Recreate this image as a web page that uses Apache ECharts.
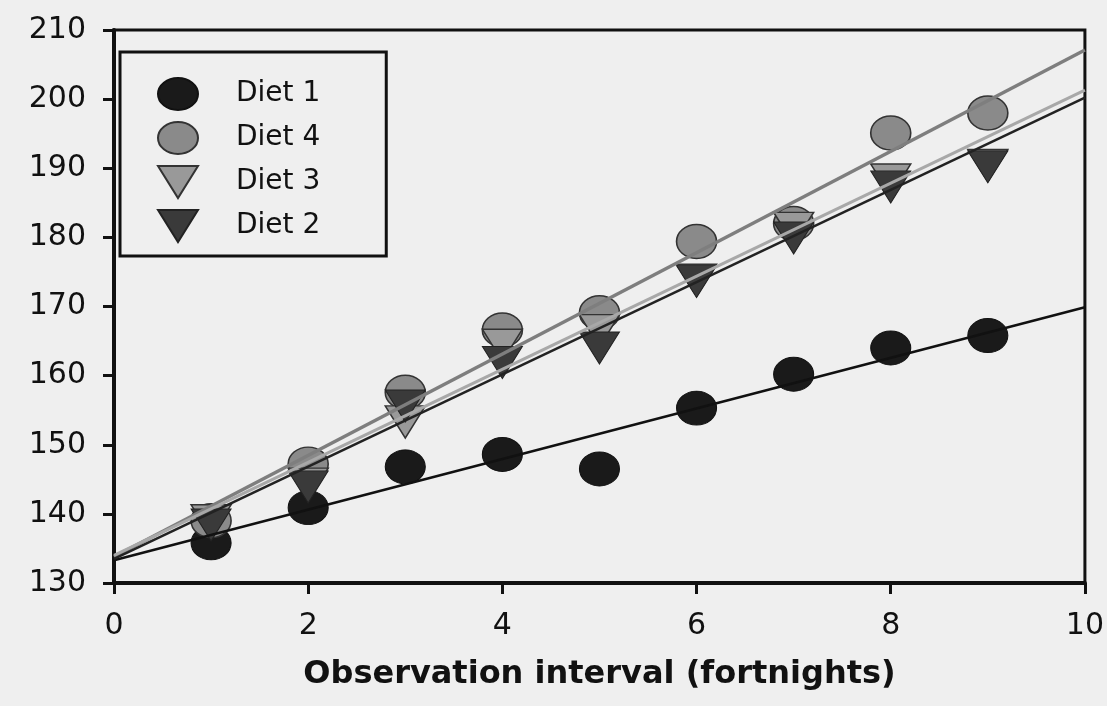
<!DOCTYPE html>
<html>
<head>
<meta charset="utf-8">
<script src="https://cdn.jsdelivr.net/npm/echarts@6/dist/echarts.min.js"></script>
<style>
html,body{margin:0;padding:0;background:#efefef;}
#chart{width:1107px;height:706px;}
</style>
</head>
<body>
<div id="chart"></div>
<script>
// Observation interval (fortnights)
const xValues = [1, 2, 3, 4, 5, 6, 7, 8, 9];
const diet1 = [135.8, 140.9, 146.8, 148.6, 146.5, 155.3, 160.2, 164.0, 165.8];
const diet4 = [139.0, 147.2, 157.6, 166.6, 169.1, 179.4, 182.0, 195.1, 198.0];
const diet3 = [139.0, 144.3, 153.3, 164.4, 166.5, 173.8, 181.3, 188.3, 190.4];
const diet2 = [138.4, 143.9, 155.6, 161.9, 164.0, 173.6, 179.9, 187.3, 190.2];

// fitted regression lines (values at x = 0 and x = 10)
const fitX = [0, 10];
const fit1 = [133.3, 169.9];
const fit4 = [133.8, 207.1];
const fit3 = [134.0, 201.3];
const fit2 = [133.5, 200.2];

const xTicks = [0, 2, 4, 6, 8, 10];
const yTicks = [130, 140, 150, 160, 170, 180, 190, 200, 210];

const FONT = 'DejaVu Sans';
const downTri = 'path://M0,0 L20,0 L10,16 Z';
const ellipse = 'path://M0,10 A10,10 0 1,0 20,10 A10,10 0 1,0 0,10 Z';

function pairs(xs, ys) { return xs.map((x, i) => [x, ys[i]]); }

const chart = echarts.init(document.getElementById('chart'), null, {renderer: 'canvas'});

const scatterSeries = [
  {name: 'Diet 1', data: pairs(xValues, diet1), symbol: ellipse, symbolSize: [40, 34],
   itemStyle: {color: '#1a1a1a', borderColor: '#111', borderWidth: 1, opacity: 1}, z: 2},
  {name: 'Diet 4', data: pairs(xValues, diet4), symbol: ellipse, symbolSize: [40, 34],
   itemStyle: {color: '#8a8a8a', borderColor: '#333', borderWidth: 1.5, opacity: 1}, z: 3},
  {name: 'Diet 3', data: pairs(xValues, diet3), symbol: downTri, symbolSize: [40, 32],
   itemStyle: {color: '#999999', borderColor: '#333', borderWidth: 1.5, opacity: 1}, z: 4},
  {name: 'Diet 2', data: pairs(xValues, diet2), symbol: downTri, symbolSize: [40, 32],
   itemStyle: {color: '#3a3a3a', borderColor: '#222', borderWidth: 1, opacity: 1}, z: 5}
].map(s => Object.assign({type: 'scatter', emphasis: {disabled: true}}, s));

const fitSeries = [
  {data: pairs(fitX, fit1), lineStyle: {color: '#111', width: 2.5}},
  {data: pairs(fitX, fit4), lineStyle: {color: '#7e7e7e', width: 3.5}},
  {data: pairs(fitX, fit3), lineStyle: {color: '#a8a8a8', width: 3}},
  {data: pairs(fitX, fit2), lineStyle: {color: '#222', width: 2.5}}
].map(s => Object.assign({type: 'line', symbol: 'none', silent: true, z: 6, animation: false}, s));

chart.setOption({
  animation: false,
  backgroundColor: '#efefef',
  grid: {
    left: 114, right: 20, top: 30, bottom: 123,
    show: true, borderColor: '#111', borderWidth: 3, backgroundColor: 'transparent'
  },
  legend: {
    orient: 'vertical',
    left: 120, top: 52,
    padding: [25, 66, 13, 37],
    itemWidth: 40, itemHeight: 32, itemGap: 10,
    symbolKeepAspect: false,
    backgroundColor: 'transparent',
    borderColor: '#111', borderWidth: 3, borderRadius: 0,
    selectedMode: false,
    textStyle: {fontFamily: FONT, fontSize: 28, color: '#111', padding: [0, 0, 0, 33]},
    data: ['Diet 1', 'Diet 4', 'Diet 3', 'Diet 2']
  },
  xAxis: {
    type: 'value', min: xTicks[0], max: xTicks[xTicks.length - 1], interval: 2,
    name: 'Observation interval (fortnights)',
    nameLocation: 'middle', nameGap: 76,
    nameTextStyle: {fontFamily: FONT, fontSize: 32, fontWeight: 'bold', color: '#111'},
    axisLine: {show: true, onZero: false, lineStyle: {color: '#111', width: 4}},
    axisTick: {show: true, inside: false, length: 11, lineStyle: {color: '#111', width: 3}},
    axisLabel: {fontFamily: FONT, fontSize: 30, color: '#111', margin: 28},
    splitLine: {show: false}
  },
  yAxis: {
    type: 'value', min: yTicks[0], max: yTicks[yTicks.length - 1], interval: 10,
    axisLine: {show: true, onZero: false, lineStyle: {color: '#111', width: 4}},
    axisTick: {show: true, inside: false, length: 11, lineStyle: {color: '#111', width: 3}},
    axisLabel: {fontFamily: FONT, fontSize: 30, color: '#111', margin: 28},
    splitLine: {show: false}
  },
  series: scatterSeries.concat(fitSeries)
});
</script>
</body>
</html>
